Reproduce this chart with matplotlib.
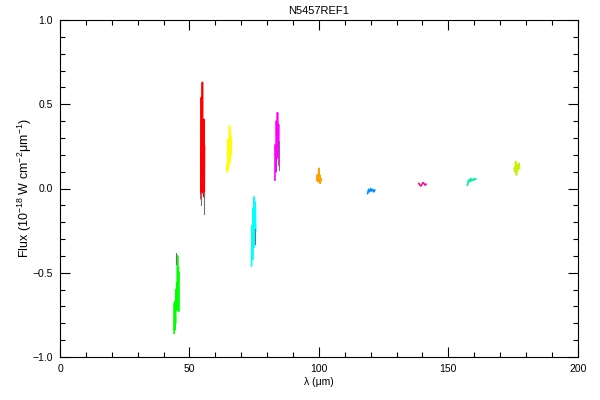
import numpy as np
import matplotlib
matplotlib.use("Agg")
import matplotlib.pyplot as plt
from matplotlib.ticker import MultipleLocator, FuncFormatter

plt.rcParams['font.family'] = ['Liberation Sans', 'DejaVu Sans']
plt.rcParams['mathtext.default'] = 'regular'

title = "N5457REF1"
xlabel = "λ (μm)"
ylabel = "Flux (10$^{-18}$ W cm$^{-2}$μm$^{-1}$)"

green_wl = [44.1, 44.2, 44.3, 44.4, 44.6, 44.8, 45.0, 45.1, 45.3, 45.4, 45.5, 45.7, 45.8, 45.9]
green_flux = [-0.86, -0.68, -0.84, -0.67, -0.80, -0.60, -0.72, -0.56, -0.66, -0.40, -0.64, -0.47, -0.73, -0.50]

red_wl = [54.5, 54.6, 54.7, 54.8, 54.9, 55.0, 55.1, 55.2, 55.3, 55.4, 55.5, 55.6, 55.7, 55.8]
red_flux = [-0.06, 0.54, -0.03, 0.35, 0.06, 0.63, 0.05, 0.40, 0.00, 0.30, -0.02, 0.41, -0.05, 0.25]

yellow_wl = [64.5, 64.6, 64.8, 64.9, 65.1, 65.2, 65.4, 65.5, 65.7, 65.8, 66.0, 66.1]
yellow_flux = [0.10, 0.14, 0.11, 0.29, 0.13, 0.26, 0.15, 0.37, 0.16, 0.33, 0.20, 0.30]

cyan_wl = [74.0, 74.2, 74.4, 74.6, 74.8, 75.0, 75.2, 75.4, 75.6]
cyan_flux = [-0.46, -0.22, -0.42, -0.12, -0.35, -0.05, -0.30, -0.08, -0.25]

magenta_wl = [83.0, 83.2, 83.4, 83.6, 83.8, 84.0, 84.2, 84.4, 84.6]
magenta_flux = [0.05, 0.26, 0.10, 0.40, 0.18, 0.45, 0.20, 0.38, 0.14]

orange_wl = [99.2, 99.4, 99.6, 99.8, 100.0, 100.1, 100.3, 100.5, 100.7, 100.9]
orange_flux = [0.05, 0.08, 0.04, 0.07, 0.12, 0.04, 0.08, 0.03, 0.06, 0.05]

blue_wl = [118.8, 119.2, 119.6, 120.0, 120.4, 120.8, 121.2, 121.6]
blue_flux = [-0.03, -0.005, -0.02, 0.0, -0.015, -0.005, -0.02, -0.01]

pink_wl = [138.6, 139.0, 139.4, 139.8, 140.2, 140.6, 141.0, 141.4]
pink_flux = [0.03, 0.02, 0.015, 0.025, 0.035, 0.03, 0.02, 0.025]

teal_wl = [157.4, 157.8, 158.2, 158.6, 159.0, 159.4, 159.8, 160.2, 160.6]
teal_flux = [0.02, 0.05, 0.04, 0.06, 0.045, 0.055, 0.05, 0.06, 0.055]

lime_wl = [175.4, 175.7, 176.0, 176.3, 176.6, 176.9, 177.2, 177.5]
lime_flux = [0.12, 0.10, 0.16, 0.08, 0.14, 0.11, 0.15, 0.12]

# darker overlay pieces (NaN separates pieces)
gray_wl = [54.3, 54.3, np.nan, 55.5, 55.5, np.nan, 44.9, 44.9, np.nan, 75.4, 75.4, np.nan, 84.7, 84.7]
gray_flux = [-0.02, -0.10, np.nan, -0.02, -0.15, np.nan, -0.38, -0.45, np.nan, -0.24, -0.33, np.nan, 0.28, 0.11]

segments = [
    (green_wl, green_flux, "#00ff00"),
    (red_wl, red_flux, "#ff0000"),
    (yellow_wl, yellow_flux, "#ffff00"),
    (cyan_wl, cyan_flux, "#00ffff"),
    (magenta_wl, magenta_flux, "#ff00ff"),
    (orange_wl, orange_flux, "#ffa000"),
    (blue_wl, blue_flux, "#0090ff"),
    (pink_wl, pink_flux, "#f0108a"),
    (teal_wl, teal_flux, "#00f0a0"),
    (lime_wl, lime_flux, "#c8f000"),
]

fig = plt.figure(figsize=(6, 4), dpi=100)
ax = fig.add_axes([0.1, 0.1075, 0.863, 0.8425])

for wl, fl, c in segments:
    ax.plot(wl, fl, color=c, lw=1.2)
ax.plot(gray_wl, gray_flux, color="#707070", lw=0.8)

ax.set_xlim(0, 200)
ax.set_ylim(-1.0, 1.0)
ax.xaxis.set_major_locator(MultipleLocator(50))
ax.xaxis.set_minor_locator(MultipleLocator(10))
ax.yaxis.set_major_locator(MultipleLocator(0.5))
ax.yaxis.set_minor_locator(MultipleLocator(0.1))
ax.yaxis.set_major_formatter(FuncFormatter(lambda v, p: ("%.1f" % v).replace("-", "\u2212")))
ax.tick_params(which='both', direction='in', top=True, right=True, labelsize=7.5, width=0.8)
ax.tick_params(which='major', length=7.5, pad=5)
ax.tick_params(which='minor', length=3.8)
for s in ax.spines.values():
    s.set_linewidth(0.8)

ax.set_title(title, fontsize=8, pad=4)
ax.set_xlabel(xlabel, fontsize=7.5, labelpad=2)
ax.set_ylabel(ylabel, fontsize=9, labelpad=-1)

fig.savefig("out.png", dpi=100)
